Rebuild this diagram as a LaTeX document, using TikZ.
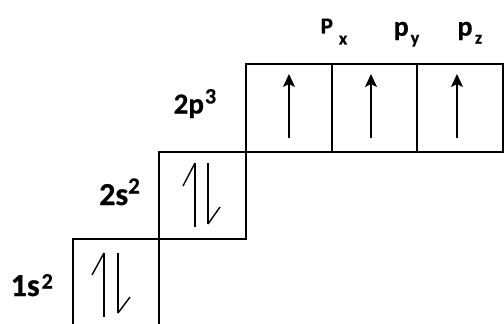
\documentclass[tikz,border=0pt]{standalone}
\usepackage{fontspec}
\setmainfont{Carlito}[BoldFeatures={FakeBold=0.6}]
\usetikzlibrary{arrows.meta}
% #1 size, #2 main text, #3 index size, #4 index, #5 raise, #6 gap
\newcommand\lvltext[6]{{\fontsize{#1}{#1}\selectfont\bfseries #2\kern#6\raisebox{#5}{\fontsize{#3}{#3}\selectfont #4}}}
\begin{document}
\begin{tikzpicture}[x=1pt,y=-1pt,
  orb/.style={draw,line width=2.8pt,inner sep=0pt,outer sep=0pt,rectangle},
  spin/.style={line width=1.4pt},
  upspin/.style={line width=1.4pt,-{Stealth[length=13pt,width=12pt,inset=3pt]}},
  lvl/.style={anchor=base west,inner sep=0pt}]
\useasboundingbox (0,0) rectangle (504,324);
\clip (0,0) rectangle (504,324);
\fill[white] (0,0) rectangle (504,324);

% orbital boxes
\node[orb,minimum width=86pt,minimum height=86pt] (s1) at (116,282) {};
\node[orb,minimum width=87pt,minimum height=87pt] (s2) at (202.5,195.5) {};
\node[orb,minimum width=86pt,minimum height=88pt] (px) at (289,108) {};
\node[orb,minimum width=85pt,minimum height=88pt] (py) at (374.5,108) {};
\node[orb,minimum width=86pt,minimum height=88pt] (pz) at (460,108) {};

% paired electrons in 1s
\draw[spin] ([shift={(-12,-29)}]s1.center) coordinate (s1a) -- ++(0,64);
\draw[spin] (s1a) -- ++(-12,22);
\draw[spin] ([shift={(2,31)}]s1.center) coordinate (s1b) -- ++(0,-60);
\draw[spin] (s1b) -- ++(12,-16);

% paired electrons in 2s
\draw[spin] ([shift={(-7.5,-32.5)}]s2.center) coordinate (s2a) -- ++(0,64);
\draw[spin] (s2a) -- ++(-12,23);
\draw[spin] ([shift={(5.5,28.5)}]s2.center) coordinate (s2b) -- ++(0,-61);
\draw[spin] (s2b) -- ++(12,-17);

% unpaired electrons in 2p
\draw[upspin] ([shift={(0,30)}]px.center) -- ++(0,-64);
\draw[upspin] ([shift={(-3.5,30)}]py.center) -- ++(0,-64);
\draw[upspin] ([shift={(-3,30)}]pz.center) -- ++(0,-64);

% level labels
\node[lvl] (l1) at (10.5,296) {\lvltext{32}{1s}{22}{2}{7.5pt}{2pt}};
\node[lvl] (l2) at (99,205) {\lvltext{32}{2s}{23}{2}{11.5pt}{0pt}};
\node[lvl] (l3) at (173.5,113.5) {\lvltext{29}{2p}{22}{3}{10pt}{1pt}};

% orbital labels
\node[lvl] (tx) at (320.5,33.5) {\lvltext{23}{P}{18}{x}{-11pt}{6pt}};
\node[lvl] (ty) at (393.5,35.7) {\lvltext{28}{p}{18}{y}{-8pt}{2pt}};
\node[lvl] (tz) at (457.3,35.7) {\lvltext{28}{p}{18}{z}{-8pt}{2.5pt}};
\end{tikzpicture}
\end{document}
